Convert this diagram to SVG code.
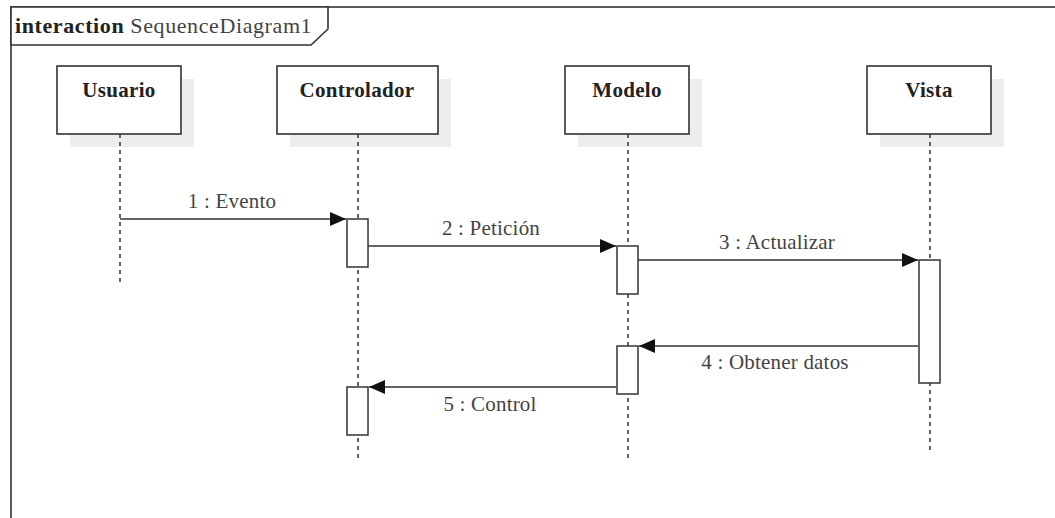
<svg xmlns="http://www.w3.org/2000/svg" width="1055" height="518" viewBox="0 0 1055 518">
<defs>
<style>
.frame{fill:none;stroke:#333;stroke-width:1.6}
.head{fill:#fff;stroke:#333;stroke-width:1.6}
.shadow{fill:#ededed}
.box{fill:#fff;stroke:#333;stroke-width:1.6}
.life{stroke:#333;stroke-width:1.5;stroke-dasharray:4,4;fill:none}
.act{fill:#fff;stroke:#333;stroke-width:1.5}
.msg{stroke:#333;stroke-width:1.5;fill:none}
.lbl{font-family:"Liberation Serif",serif;font-size:21px;fill:#444;text-anchor:middle;letter-spacing:0.2px}
.name{font-family:"Liberation Serif",serif;font-size:21px;font-weight:bold;fill:#222;text-anchor:middle;letter-spacing:0.3px}
.htxt{font-family:"Liberation Serif",serif;font-size:22px;fill:#444;letter-spacing:0.6px}
</style>
<marker id="arr" markerWidth="16" markerHeight="14" refX="16" refY="7" orient="auto" markerUnits="userSpaceOnUse">
<path d="M0,0 L16,7 L0,14 Z" fill="#111"/>
</marker>
</defs>
<rect width="1055" height="518" fill="#fff"/>
<g id="frame">
<rect class="frame" x="11" y="7" width="1060" height="530"/>
<path class="head" d="M11,7 L328,7 L328,29 L311,45 L11,45 Z"/>
<text x="15" y="33" class="htxt"><tspan font-weight="bold" fill="#222">interaction</tspan> SequenceDiagram1</text>
</g>
<g id="usuario">
<rect class="shadow" x="70" y="79" width="124" height="68"/>
<rect class="box" x="57" y="66" width="124" height="68"/>
<text class="name" x="119" y="97">Usuario</text>
<line class="life" x1="120" y1="134" x2="120" y2="286"/>
</g>
<g id="controlador">
<rect class="shadow" x="290" y="79" width="161" height="68"/>
<rect class="box" x="277" y="66" width="161" height="68"/>
<text class="name" x="357" y="97">Controlador</text>
<line class="life" x1="358" y1="134" x2="358" y2="462"/>
<rect class="act" x="347" y="219" width="21" height="48"/>
<rect class="act" x="347" y="387" width="21" height="48"/>
</g>
<g id="modelo">
<rect class="shadow" x="578" y="79" width="124" height="68"/>
<rect class="box" x="565" y="66" width="124" height="68"/>
<text class="name" x="627" y="97">Modelo</text>
<line class="life" x1="628" y1="134" x2="628" y2="462"/>
<rect class="act" x="617" y="246" width="21" height="48"/>
<rect class="act" x="617" y="346" width="21" height="48"/>
</g>
<g id="vista">
<rect class="shadow" x="880" y="79" width="124" height="68"/>
<rect class="box" x="867" y="66" width="124" height="68"/>
<text class="name" x="929" y="97">Vista</text>
<line class="life" x1="930" y1="134" x2="930" y2="452"/>
<rect class="act" x="919" y="260" width="21" height="123"/>
</g>
<g id="connectors">
<line class="msg" x1="120" y1="219" x2="346" y2="219" marker-end="url(#arr)"/>
<text class="lbl" x="232" y="208">1 : Evento</text>
<line class="msg" x1="368" y1="246" x2="616" y2="246" marker-end="url(#arr)"/>
<text class="lbl" x="491" y="235">2 : Petición</text>
<line class="msg" x1="638" y1="260" x2="918" y2="260" marker-end="url(#arr)"/>
<text class="lbl" x="777" y="249">3 : Actualizar</text>
<line class="msg" x1="918" y1="346" x2="639" y2="346" marker-end="url(#arr)"/>
<text class="lbl" x="775" y="369">4 : Obtener datos</text>
<line class="msg" x1="616" y1="387" x2="369" y2="387" marker-end="url(#arr)"/>
<text class="lbl" x="490" y="411">5 : Control</text>
</g>
</svg>
